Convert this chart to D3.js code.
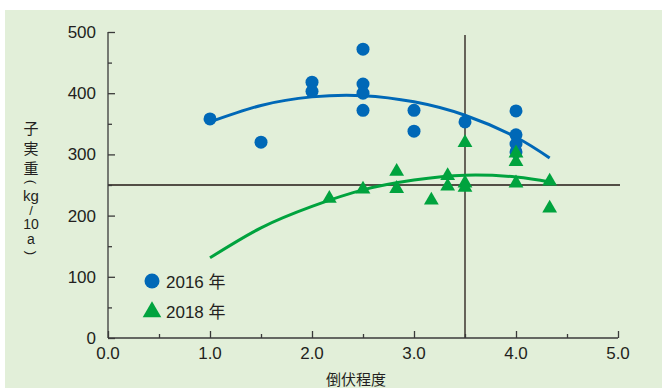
<!DOCTYPE html>
<html>
<head>
<meta charset="utf-8">
<script src="https://cdn.jsdelivr.net/npm/d3@7"></script>
<style>
  html, body { margin: 0; padding: 0; background: #fff; }
  svg { display: block; }
  text { font-family: "Liberation Sans", Arial, "Noto Sans CJK JP", sans-serif; fill: #231f20; }
  .cjk { font-family: "Noto Sans CJK JP", sans-serif; }
</style>
</head>
<body>
<div id="chart"></div>
<script>
// lodging degree vs seed weight (kg/10a)
const xTicks = [0, 1, 2, 3, 4, 5];
const yTicks = [0, 100, 200, 300, 400, 500];

const x2016 = [1.0, 1.5, 2.0, 2.0, 2.5, 2.5, 2.5, 2.5, 3.0, 3.0, 3.5, 4.0, 4.0, 4.0, 4.0];
const y2016 = [358, 320, 418, 403, 472, 415, 400, 372, 372, 338, 353, 371, 332, 317, 304];

const x2018 = [2.17, 2.5, 2.83, 2.83, 3.17, 3.33, 3.33, 3.5, 3.5, 3.5, 4.0, 4.0, 4.0, 4.33, 4.33];
const y2018 = [228, 243, 272, 244, 225, 265, 248, 319, 253, 246, 302, 288, 253, 256, 212];

// fitted curves
const curveX = [1.0, 1.5, 2.0, 2.5, 3.0, 3.5, 4.0, 4.33];
const curve2016 = [353, 380, 394, 396, 386, 364, 328, 294];
const curve2018 = [131, 180, 215, 242, 258, 266, 263, 255];

// reference lines
const refX = 3.5;
const refY = 250;

const width = 662, height = 388;
const blue = "#0068b7", green = "#00a33e";

const svg = d3.select("#chart").append("svg")
    .attr("width", width)
    .attr("height", height);

// panel background
svg.append("rect")
    .attr("x", 5).attr("y", 10)
    .attr("width", width - 5).attr("height", height - 10)
    .attr("fill", "#e2efd9");

const x = d3.scaleLinear().domain([0, 5]).range([108, 618]);
const y = d3.scaleLinear().domain([0, 500]).range([338, 32]);

// reference lines
svg.append("line")
    .attr("x1", x(0)).attr("x2", x(5) + 2)
    .attr("y1", y(refY)).attr("y2", y(refY))
    .attr("stroke", "#231815").attr("stroke-width", 1.3);
svg.append("line")
    .attr("x1", x(refX)).attr("x2", x(refX))
    .attr("y1", y(495)).attr("y2", y(0))
    .attr("stroke", "#231815").attr("stroke-width", 1.3);

// axes
const xAxis = svg.append("g")
    .attr("transform", "translate(0," + y(0) + ")")
    .call(d3.axisBottom(x).tickValues(d3.range(0, 5.01, 0.5)).tickSize(-7).tickFormat(""));
xAxis.selectAll(".tick line").attr("y2", d => (d % 1 === 0 ? -7 : -4));
xAxis.select(".domain").attr("d", "M" + x(0) + ",0H" + x(5));

const yAxis = svg.append("g")
    .attr("transform", "translate(" + x(0) + ",0)")
    .call(d3.axisLeft(y).tickValues(d3.range(0, 501, 50)).tickSize(-7).tickFormat(""));
yAxis.selectAll(".tick line").attr("x2", d => (d % 100 === 0 ? 7 : 4));
yAxis.select(".domain").attr("d", "M0," + y(500) + "V" + y(0));

svg.selectAll(".domain, .tick line").attr("stroke", "#3a3a3a").attr("stroke-width", 1.3);

// tick labels
svg.selectAll(".xlab").data(xTicks).enter().append("text")
    .attr("x", d => x(d)).attr("y", y(0) + 21)
    .attr("text-anchor", "middle")
    .style("font-size", "17px")
    .text(d => d.toFixed(1));
svg.selectAll(".ylab").data(yTicks).enter().append("text")
    .attr("x", x(0) - 12).attr("y", d => y(d) + 6)
    .attr("text-anchor", "end")
    .style("font-size", "17px")
    .text(d => d);

// axis titles
svg.append("text").attr("class", "cjk")
    .attr("x", 356).attr("y", 385)
    .attr("text-anchor", "middle")
    .style("font-size", "15px")
    .text("倒伏程度");

// vertical y title, one piece per row
const yTitle = [
  { t: "子", cy: 127, size: 15 }, { t: "実", cy: 147, size: 15 }, { t: "重", cy: 167, size: 15 },
  { t: "(", cy: 182, size: 13, rot: true }, { t: "kg", cy: 195, size: 15 }, { t: "/", cy: 210, size: 13 },
  { t: "10", cy: 224, size: 14 }, { t: "a", cy: 239, size: 14 }, { t: ")", cy: 253, size: 13, rot: true }
];
svg.selectAll(".ytitle").data(yTitle).enter().append("text")
    .attr("class", d => (/^[子実重]$/.test(d.t) ? "cjk" : ""))
    .attr("text-anchor", "middle")
    .attr("dominant-baseline", "central")
    .attr("transform", d => "translate(31," + d.cy + ")" + (d.rot ? " rotate(90)" : ""))
    .style("font-size", d => d.size + "px")
    .text(d => d.t);

// fitted curves
const line = d3.line()
    .x(d => x(d[0]))
    .y(d => y(d[1]))
    .curve(d3.curveNatural);
svg.append("path")
    .attr("d", line(curveX.map((v, i) => [v, curve2016[i]])))
    .attr("fill", "none").attr("stroke", blue).attr("stroke-width", 3);
svg.append("path")
    .attr("d", line(curveX.map((v, i) => [v, curve2018[i]])))
    .attr("fill", "none").attr("stroke", green).attr("stroke-width", 3);

// points
svg.selectAll(".p16").data(x2016).enter().append("circle")
    .attr("cx", d => x(d))
    .attr("cy", (d, i) => y(y2016[i]))
    .attr("r", 6.5)
    .attr("fill", blue);

const tri = d3.symbol().type(d3.symbolTriangle).size(95);
svg.selectAll(".p18").data(x2018).enter().append("path")
    .attr("d", tri)
    .attr("transform", (d, i) => "translate(" + x(d) + "," + y(y2018[i]) + ")")
    .attr("fill", green);

// legend
const legend = [
  { name: "2016 年", color: blue, shape: "circle" },
  { name: "2018 年", color: green, shape: "triangle" }
];
legend.forEach((l, i) => {
  const ly = 281 + i * 30;
  if (l.shape === "circle") {
    svg.append("circle").attr("cx", 152).attr("cy", ly).attr("r", 7.5).attr("fill", l.color);
  } else {
    svg.append("path").attr("d", d3.symbol().type(d3.symbolTriangle).size(150))
      .attr("transform", "translate(152," + (ly + 1) + ")").attr("fill", l.color);
  }
  svg.append("text")
    .attr("x", 166).attr("y", ly + 7)
    .style("font-size", "17px")
    .text(l.name);
});
</script>
</body>
</html>
